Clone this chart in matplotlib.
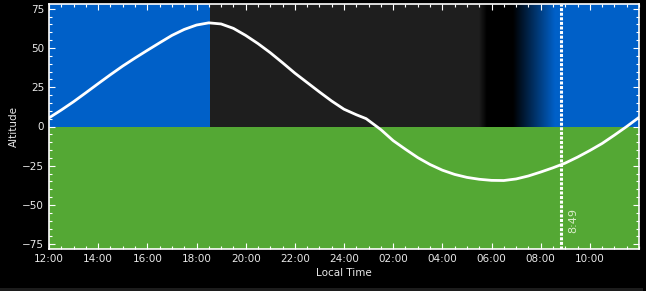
import numpy as np
import matplotlib
matplotlib.use('Agg')
import matplotlib.pyplot as plt
from matplotlib.colors import LinearSegmentedColormap
from matplotlib.ticker import MultipleLocator
from matplotlib.patches import Rectangle

# hours since 12:00 local time, altitude in degrees
hours = [0, 0.5, 1, 1.5, 2, 2.5, 3, 3.5, 4, 4.5, 5, 5.5, 6, 6.5, 7, 7.5, 8, 8.5, 9,
         9.5, 10, 10.5, 11, 11.5, 12, 12.5, 12.9, 13.2, 13.5, 14, 14.5, 15, 15.5, 16,
         16.5, 17, 17.5, 18, 18.5, 19, 19.5, 20, 20.5, 21, 21.5, 22, 22.5, 23, 23.5, 24]
altitude = [5.5, 10.5, 15.8, 21.5, 27.3, 33.0, 38.5, 43.6, 48.5, 53.3, 58.0, 61.8,
            64.6, 66.0, 65.3, 62.5, 58.0, 52.8, 47.0, 40.6, 34.0, 28.0, 22.0, 16.2,
            11.0, 7.5, 5.0, 1.5, -2.0, -9.0, -14.5, -19.8, -24.2, -27.8, -30.5, -32.4,
            -33.6, -34.3, -34.4, -33.4, -31.5, -29.0, -26.3, -23.3, -19.5, -15.3,
            -10.8, -5.5, 0.0, 5.8]
tick_labels = ['12:00', '14:00', '16:00', '18:00', '20:00', '22:00', '24:00',
               '02:00', '04:00', '06:00', '08:00', '10:00']
now_hour = 20.82
now_label = '8:49'

# sky phases (hours since 12:00)
sunset = 6.55
dusk_end = 17.5
dark_start = 17.8
dawn_start = 18.88
sunrise = 20.5

blue = '#0060c8'
night = '#1e1e1e'
ground = '#54a834'

fig = plt.figure(figsize=(6.46, 2.91), dpi=100, facecolor='black')
ax = fig.add_axes([49/646, 1-249/291, 590/646, 245/291])
ax.set_facecolor('black')
ax.set_xlim(0, 24)
ax.set_ylim(-78, 78)

ax.axvspan(0, sunset, color=blue, lw=0, zorder=0)
ax.axvspan(sunset, dusk_end, color=night, lw=0, zorder=0)
ax.axvspan(sunrise, 24, color=blue, lw=0, zorder=0)
grad = np.linspace(0, 1, 256).reshape(1, -1)
ax.imshow(grad, extent=[dusk_end, dark_start, -78, 78], aspect='auto', zorder=0,
          cmap=LinearSegmentedColormap.from_list('d', [night, 'black']),
          interpolation='bilinear')
ax.imshow(grad, extent=[dawn_start, sunrise + 0.05, -78, 78], aspect='auto', zorder=0,
          cmap=LinearSegmentedColormap.from_list('m', ['black', blue]),
          interpolation='bilinear')
ax.axhspan(-78, 0, color=ground, lw=0, zorder=1)

ax.plot(hours, altitude, color='white', lw=2.0, zorder=3,
        solid_capstyle='round', solid_joinstyle='round')
ax.axvline(now_hour, color='white', lw=2.2, ls=(0, (1.0, 0.5)), zorder=4)
ax.text(now_hour + 0.52, -60, now_label, rotation=90, color='#d8ecc8', fontsize=8,
        ha='center', va='center', zorder=5)

ax.set_xticks(range(0, 24, 2))
ax.set_xticklabels(tick_labels)
ax.xaxis.set_minor_locator(MultipleLocator(0.5))
ax.set_yticks([-75, -50, -25, 0, 25, 50, 75])
ax.yaxis.set_minor_locator(MultipleLocator(5))
ax.tick_params(which='both', direction='in', colors='white', top=True, right=True,
               labelcolor='#e8e8e8', labelsize=7.5)
ax.tick_params(which='major', length=4, width=0.8)
ax.tick_params(which='minor', length=2.5, width=0.8)
for s in ax.spines.values():
    s.set_color('white')
    s.set_linewidth(1.2)
    s.set_zorder(6)

ax.set_xlabel('Local Time', color='#e8e8e8', fontsize=7.5, labelpad=3)
ax.set_ylabel('Altitude', color='#e8e8e8', fontsize=7.5, labelpad=2)

fig.patches.append(Rectangle((0, 0), 643/646, 3/291, transform=fig.transFigure,
                             color='#1c1c1c', lw=0))

fig.savefig('out.png', dpi=100, facecolor='black')
